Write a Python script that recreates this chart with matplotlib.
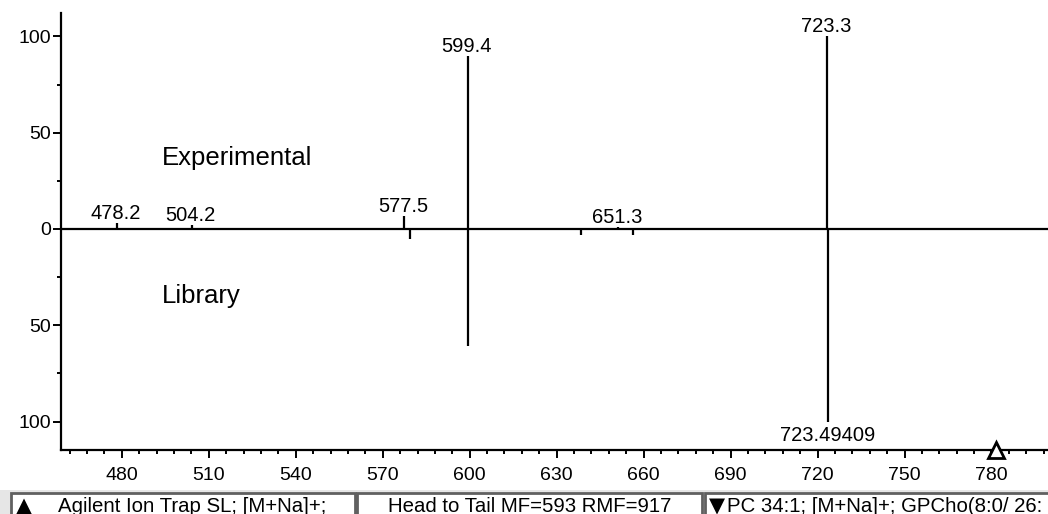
import numpy as np
import matplotlib
matplotlib.use('Agg')
import matplotlib.pyplot as plt
from matplotlib.patches import Rectangle
from matplotlib.ticker import MultipleLocator, FuncFormatter

plt.rcParams['font.family'] = ['Liberation Sans', 'DejaVu Sans']

# Experimental spectrum (upper half)
exp_mz = [478.2, 504.2, 577.5, 599.4, 651.3, 723.3]
exp_int = [3, 2, 7, 90, 1, 100]
exp_labels = ['478.2', '504.2', '577.5', '599.4', '651.3', '723.3']

# Library spectrum (lower half, drawn downwards)
lib_mz = [579.5, 599.4, 638.5, 656.3, 723.49409]
lib_int = [5, 61, 3, 3, 100]
lib_labels = ['', '', '', '', '723.49409']

precursor_mz = 781.5

# status bar texts (the last one is cut off by the window in the original)
status_texts = ['Agilent Ion Trap SL; [M+Na]+;',
                'Head to Tail MF=593 RMF=917',
                'PC 34:1; [M+Na]+; GPCho(8:0/ 26:']

W, H = 1048, 514
fig = plt.figure(figsize=(W / 100, H / 100), dpi=100)
ax = fig.add_axes([61 / W, 64 / H, 1 - 61 / W, (450 - 13) / H])

xmin, xmax = 459.0, 799.5
ymin, ymax = -114.8, 112.2
ax.set_xlim(xmin, xmax)
ax.set_ylim(ymin, ymax)

# peaks
ax.vlines(exp_mz, 0, exp_int, color='black', lw=1.6)
ax.vlines(lib_mz, [-v for v in lib_int], 0, color='black', lw=1.6)
ax.axhline(0, color='black', lw=1.6)

for mz, v, lab in zip(exp_mz, exp_int, exp_labels):
    ax.annotate(lab, (mz, v), xytext=(-1, 0), textcoords='offset points',
                ha='center', va='bottom', fontsize=14.5)
for mz, v, lab in zip(lib_mz, lib_int, lib_labels):
    if lab:
        ax.annotate(lab, (mz, -v), xytext=(0, -3), textcoords='offset points',
                    ha='center', va='top', fontsize=14.5)

ax.text(493.8, 37, 'Experimental', fontsize=18.5, va='center', ha='left')
ax.text(493.8, -35, 'Library', fontsize=18.5, va='center', ha='left')

# precursor marker
ax.plot([precursor_mz], [ymin], marker='^', markersize=11, markerfacecolor='white',
        markeredgecolor='black', markeredgewidth=2, clip_on=False, zorder=5)

# axes styling
for s in ['top', 'right']:
    ax.spines[s].set_visible(False)
ax.spines['left'].set_linewidth(1.6)
ax.spines['bottom'].set_linewidth(1.6)

ax.xaxis.set_major_locator(MultipleLocator(30))
ax.xaxis.set_minor_locator(MultipleLocator(6))
ax.yaxis.set_major_locator(MultipleLocator(50))
ax.yaxis.set_minor_locator(MultipleLocator(25))
ax.yaxis.set_major_formatter(FuncFormatter(lambda v, p: '%d' % abs(v)))
ax.tick_params(axis='both', which='major', direction='out', length=6, width=1.4,
               labelsize=14, pad=1)
ax.tick_params(axis='both', which='minor', direction='out', length=3, width=1.4)
ax.tick_params(axis='x', which='major', pad=6)

# status bar along the bottom
fig.patches.append(Rectangle((0, 0), 1, 24 / H, transform=fig.transFigure,
                             facecolor='#e6e6e6', edgecolor='none'))
boxes = [(11, 355), (357, 702), (705, 1060)]
for (x0, x1) in boxes:
    fig.patches.append(Rectangle((x0 / W, -0.02), (x1 - x0) / W, 21 / H + 0.02,
                                 transform=fig.transFigure, facecolor='white',
                                 edgecolor='#606060', lw=2))

fig.text(16 / W, 2 / H, '\u25b2', fontsize=15, va='baseline', ha='left',
         family='DejaVu Sans')
fig.text(58 / W, 2 / H, status_texts[0], fontsize=14.7, va='baseline', ha='left')
fig.text(529.5 / W, 2 / H, status_texts[1], fontsize=14.7, va='baseline', ha='center')
fig.text(709 / W, 2 / H, '\u25bc', fontsize=15, va='baseline', ha='left',
         family='DejaVu Sans')
fig.text(727 / W, 2 / H, status_texts[2], fontsize=14.7, va='baseline', ha='left')

fig.savefig('out.png', dpi=100)
